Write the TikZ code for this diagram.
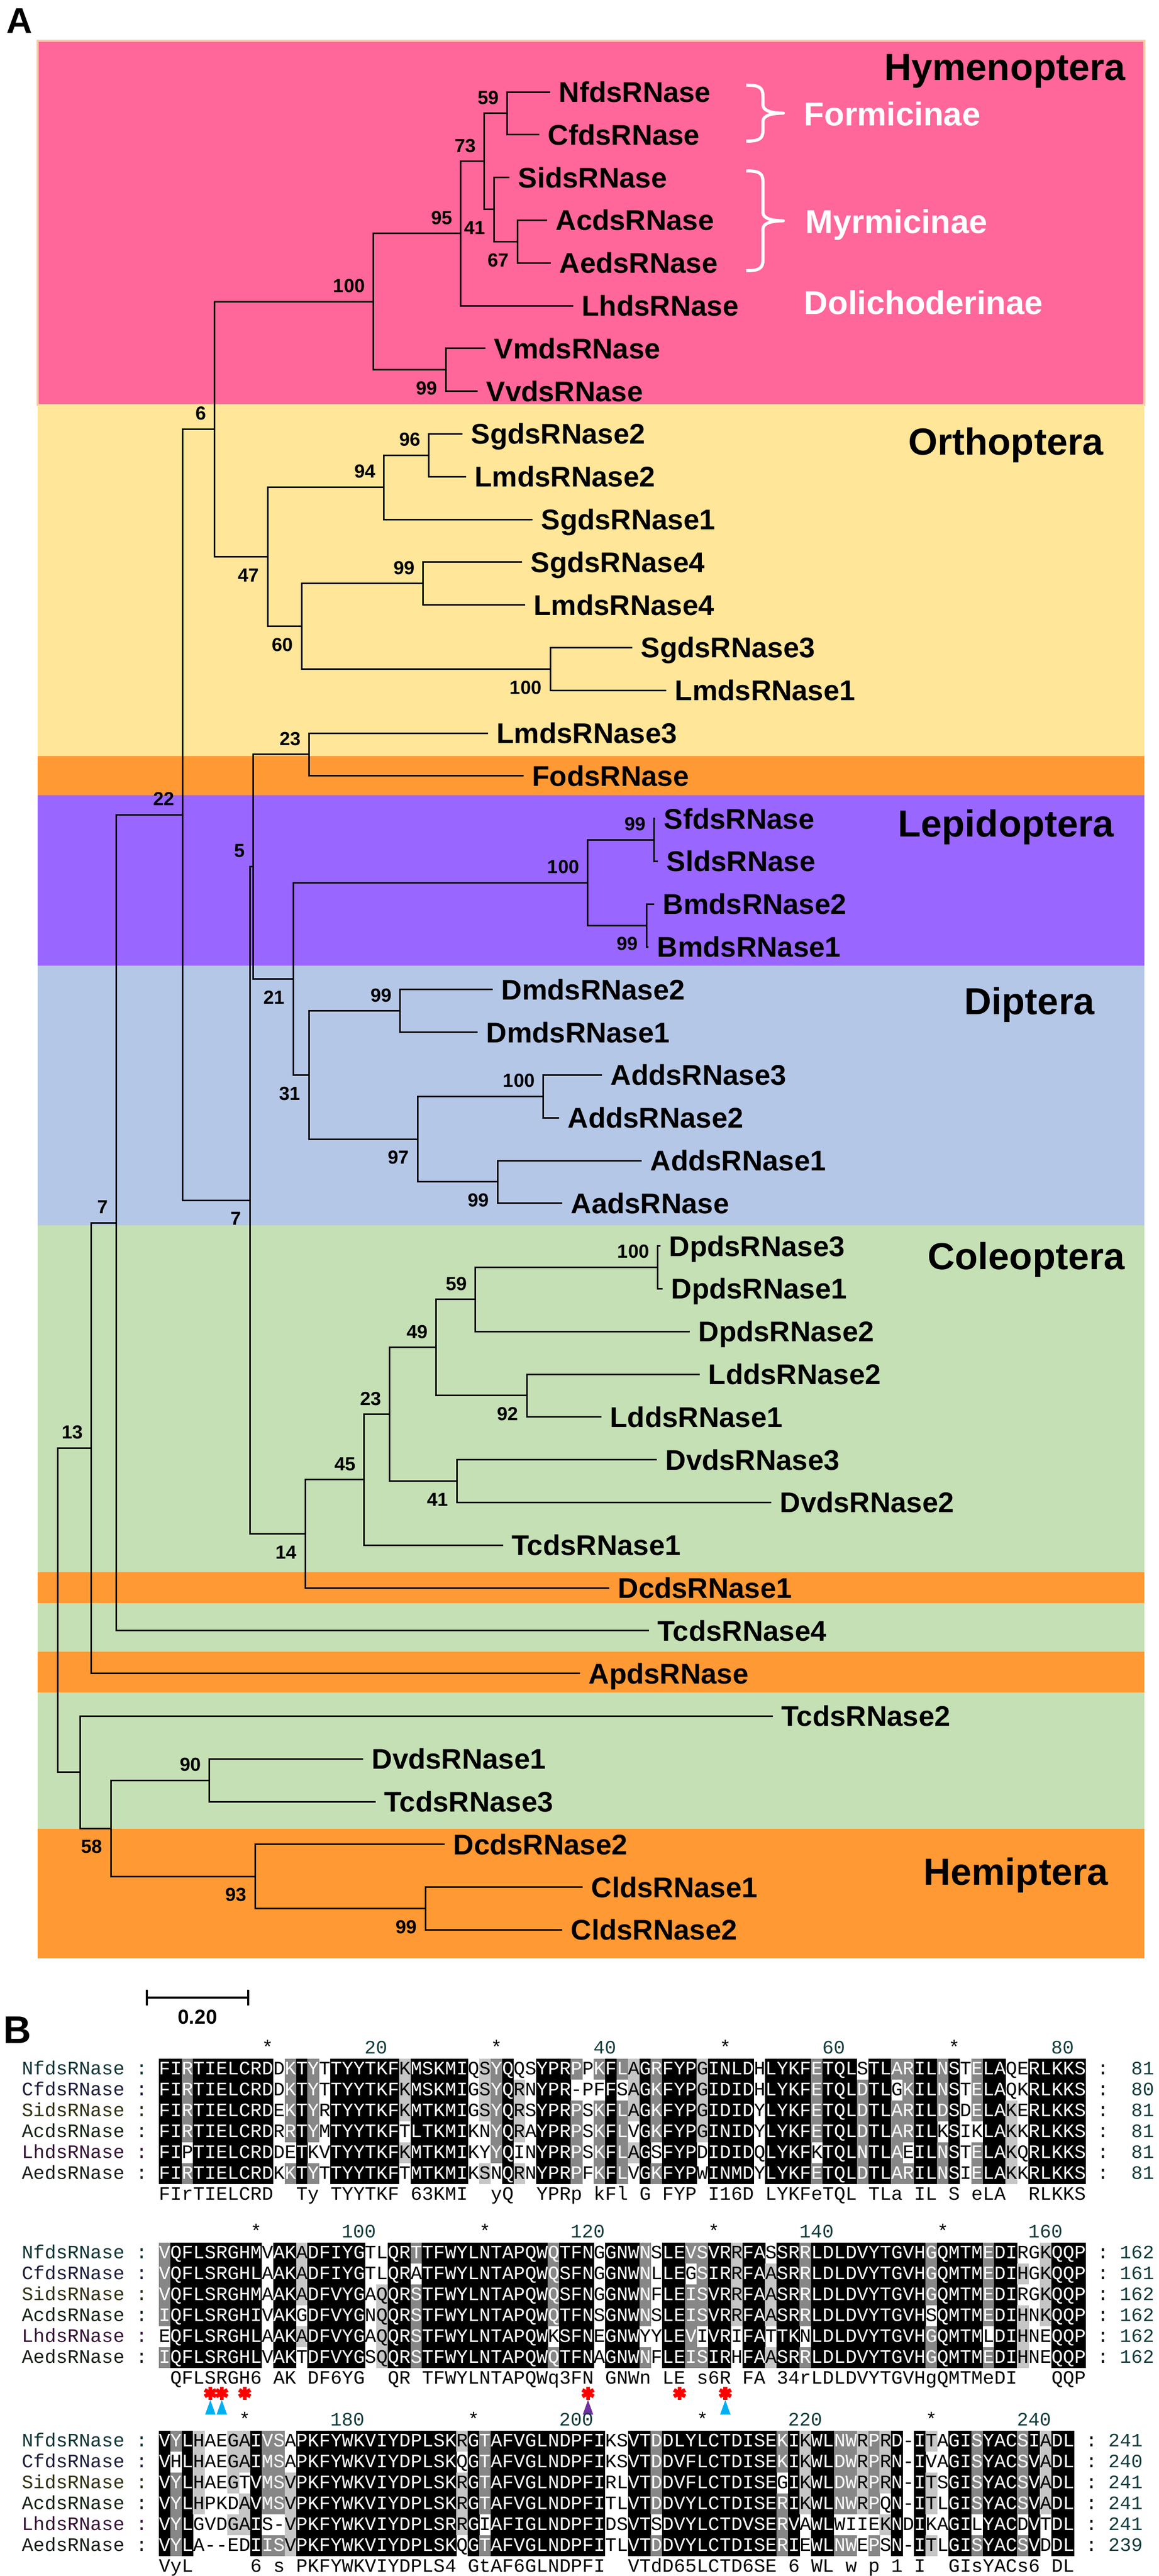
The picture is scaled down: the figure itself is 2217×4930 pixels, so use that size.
\documentclass[tikz,border=0pt]{standalone}
\usepackage{fontspec}
\usetikzlibrary{calc}
\newfontfamily\treefont{Liberation Sans}
\newfontfamily\almono{Liberation Mono}
\definecolor{hymc}{HTML}{FF6699}
\definecolor{ortc}{HTML}{FFE699}
\definecolor{orgc}{HTML}{FF9933}
\definecolor{lepc}{HTML}{9966FF}
\definecolor{dipc}{HTML}{B4C7E7}
\definecolor{colc}{HTML}{C5E0B4}
\definecolor{hymb}{HTML}{F8CBAD}
\definecolor{alk}{HTML}{000000}
\definecolor{ald}{HTML}{878787}
\definecolor{all}{HTML}{C6C6C6}
\definecolor{cyanm}{HTML}{00B0F0}
\definecolor{purpm}{HTML}{7030A0}
\definecolor{redm}{HTML}{FF0000}
\definecolor{numc}{HTML}{143C3C}
\definecolor{nmNf}{HTML}{123636}
\definecolor{nmCf}{HTML}{1E1E3C}
\definecolor{nmSi}{HTML}{303012}
\definecolor{nmAc}{HTML}{142214}
\definecolor{nmLh}{HTML}{361436}
\definecolor{nmAe}{HTML}{181E18}
\tikzset{
  tree/.style={line width=0.3mm, line join=miter, draw=black},
  taxon/.style={anchor=west, inner sep=0pt, font=\treefont\bfseries\fontsize{15.5}{18}\selectfont, text height=11.1pt, text depth=0pt},
  boot/.style={inner sep=0pt, font=\treefont\bfseries\fontsize{10.3}{12}\selectfont, text height=7.4pt, text depth=0pt},
  order/.style={inner sep=0pt, font=\treefont\bfseries\fontsize{20.5}{24}\selectfont, text height=14.7pt, text depth=0pt},
  subfam/.style={anchor=west, inner sep=0pt, text=white, font=\treefont\bfseries\fontsize{18}{21}\selectfont, text height=12.9pt, text depth=0pt},
  alch/.style={anchor=base, inner sep=0pt, font=\almono\fontsize{10.35}{12}\selectfont},
  starline/.style={draw=redm, line width=0.75mm},
}
% ---------- tree helpers
\newcommand\tleaf[4]{%
  \coordinate (#1) at (#3,{176+(#2-1)*81.8});
  \node[taxon] (t#1) at ($(#1)+(16,0)$) {#4};}
\newcommand\tclade[4]{%
  \coordinate (x#1) at (#2,0);
  \coordinate (#1) at ($(x#1|-#3)!0.5!(x#1|-#4)$);
  \draw[tree] (#3) -- (x#1|-#3) -- (x#1|-#4) -- (#4);}
\newcommand\bsa[2]{\node[boot,anchor=south east] (b#1) at ($(#1)+(-15,-17)$) {#2};}
\newcommand\bsb[2]{\node[boot,anchor=north east] (b#1) at ($(#1)+(-16,21)$) {#2};}
\newcommand\wbrace[3]{%
  \coordinate (#1) at (1499,{(#2+#3)/2});
  \draw[white, line width=0.6mm, line join=round]
    (1428,#2) .. controls (1452,#2) and (1460,{#2+4}) .. (1460,{#2+20})
    -- (1460,{(#2+#3)/2-16}) .. controls (1460,{(#2+#3)/2-4}) and (1478,{(#2+#3)/2}) .. (#1)
    .. controls (1478,{(#2+#3)/2}) and (1460,{(#2+#3)/2+4}) .. (1460,{(#2+#3)/2+16})
    -- (1460,{#3-20}) .. controls (1460,{#3-4}) and (1452,#3) .. (1428,#3);}
% ---------- alignment helpers
\newcommand\alcell[7]{%
  \ifnum#1=1
    \ifnum#6>3
      \ifnum#6=4 \def\alFil{all}\else\ifnum#6=5 \def\alFil{ald}\else\def\alFil{alk}\fi\fi
      \fill[fill=\alFil] ({304+(#3-1)*21.9-0.3},{#5+40*#4-20.3}) rectangle ++(22.5,40.6);
    \fi
  \else
    \ifnum#6>4 \def\alTxt{white}\else\def\alTxt{black}\fi
    \node[alch,text=\alTxt] (c#2-#4-#3) at ({304+(#3-0.5)*21.9},{#5+40*#4+10.5}) {#7};
  \fi}
\newcommand\alconsch[4]{\node[alch] (k#1-#2) at ({304+(#2-0.5)*21.9},{#3+10.5}) {#4};}
\newcommand\redmark[2]{%
  \coordinate (#1) at ({304+(#2-0.5)*21.9},4580);
  \draw[starline] ($(#1)+(0,-12.5)$) -- ($(#1)+(0,12.5)$);
  \draw[starline] ($(#1)+(-10.8,-6.2)$) -- ($(#1)+(10.8,6.2)$);
  \draw[starline] ($(#1)+(-10.8,6.2)$) -- ($(#1)+(10.8,-6.2)$);}
\newcommand\trimark[3]{%
  \coordinate (#1) at ({304+(#2-0.5)*21.9},4593);
  \fill[#3] ($(#1)+(-10,28)$) -- ($(#1)+(10,28)$) -- (#1) -- cycle;}
\ExplSyntaxOn
\clist_map_inline:nn { D1, N1, E2, Q2, S3, T3, K4, R4, F5, Y5, W5, L6, I6, V6, M6 }
  { \cs_gset:cpx { al_g_ \tl_head:n {#1} } { \tl_tail:n {#1} } }
\cs_gset:cpn { al_g_- } { 0 }
\cs_new:Npn \al_grp:n #1 { \cs_if_exist_use:cF { al_g_ #1 } { #1 } }
\int_step_inline:nn { 6 } { \str_new:c { l_al_row_#1_str } }
\cs_new:Npn \al_item:nn #1#2 { \exp_args:Nc \str_item:Nn { l_al_row_#1_str } {#2} }
\int_new:N \l_al_n_int
\int_new:N \l_al_len_int
\tl_new:N \l_al_c_tl
\tl_new:N \l_al_g_tl
\tl_new:N \l_al_y_tl
\str_new:N \l_al_cons_str
\cs_new_protected:Npn \al_cell:nnnn #1#2#3#4
  {
    \tl_set:Nx \l_al_c_tl { \al_item:nn {#4} {#3} }
    \tl_set:Nx \l_al_g_tl { \al_grp:n { \l_al_c_tl } }
    \int_zero:N \l_al_n_int
    \str_if_eq:VnF \l_al_g_tl { 0 }
      {
        \int_step_inline:nn { 6 }
          {
            \str_if_eq:eeT { \al_grp:n { \al_item:nn {##1} {#3} } } { \l_al_g_tl }
              { \int_incr:N \l_al_n_int }
          }
      }
    \use:x
      {
        \exp_not:N \alcell {#1} {#2} {#3} {#4} { \l_al_y_tl }
          { \int_use:N \l_al_n_int } { \l_al_c_tl }
      }
  }
\NewDocumentCommand \alblock { m m m m m m m m }
  {
    \str_set:cn { l_al_row_1_str } {#3}
    \str_set:cn { l_al_row_2_str } {#4}
    \str_set:cn { l_al_row_3_str } {#5}
    \str_set:cn { l_al_row_4_str } {#6}
    \str_set:cn { l_al_row_5_str } {#7}
    \str_set:cn { l_al_row_6_str } {#8}
    \tl_set:Nn \l_al_y_tl {#2}
    \int_set:Nn \l_al_len_int { \str_count:n {#3} }
    \int_step_inline:nn { 2 }
      {
        \int_step_inline:nn { \l_al_len_int }
          {
            \int_step_inline:nn { 6 }
              { \al_cell:nnnn {##1} {#1} {####1} {########1} }
          }
      }
  }
\NewDocumentCommand \alcons { m m m }
  {
    \str_set:Nn \l_al_cons_str {#3}
    \int_step_inline:nn { \str_count:N \l_al_cons_str }
      {
        \str_if_eq:eeF { \str_item:Nn \l_al_cons_str {##1} } { . }
          {
            \use:x
              {
                \exp_not:N \alconsch {#1} {##1} {#2}
                  { \str_item:Nn \l_al_cons_str {##1} }
              }
          }
      }
  }
\ExplSyntaxOff
\begin{document}
\begin{tikzpicture}[x=0.1mm,y=-0.1mm]
\useasboundingbox (0,0) rectangle (2217,4930);
\fill[white] (0,0) rectangle (2217,4930);
% ---------------- coloured bands
\fill[hymc] (72,78) rectangle (2190,775);
\draw[hymb, line width=0.45mm] (72,78) rectangle (2190,775);
\fill[ortc] (72,775) rectangle (2190,1447);
\fill[orgc] (72,1447) rectangle (2190,1522);
\fill[lepc] (72,1522) rectangle (2190,1848);
\fill[dipc] (72,1848) rectangle (2190,2345);
\fill[colc] (72,2345) rectangle (2190,3009);
\fill[orgc] (72,3009) rectangle (2190,3068);
\fill[colc] (72,3068) rectangle (2190,3161);
\fill[orgc] (72,3161) rectangle (2190,3239);
\fill[colc] (72,3239) rectangle (2190,3500);
\fill[orgc] (72,3500) rectangle (2190,3748);
% ---------------- panel A labels
\node[inner sep=0pt, font=\treefont\bfseries\fontsize{19.5}{22}\selectfont] (pA) at (37,40) {A};
\node[order] (oHym) at (1923,128) {Hymenoptera};
\node[order] (oOrt) at (1925,845) {Orthoptera};
\node[order] (oLep) at (1925,1576) {Lepidoptera};
\node[order] (oDip) at (1970,1916) {Diptera};
\node[order] (oCol) at (1964,2404) {Coleoptera};
\node[order] (oHem) at (1944,3582) {Hemiptera};
\node[subfam] (sFor) at (1538,218) {Formicinae};
\node[subfam] (sMyr) at (1541,424) {Myrmicinae};
\node[subfam] (sDol) at (1538,579) {Dolichoderinae};
\wbrace{brF}{163}{270}
\wbrace{brM}{327}{518}
% ---------------- leaves
\tleaf{L1}{1}{1053}{NfdsRNase}
\tleaf{L2}{2}{1032}{CfdsRNase}
\tleaf{L3}{3}{975}{SidsRNase}
\tleaf{L4}{4}{1047}{AcdsRNase}
\tleaf{L5}{5}{1054}{AedsRNase}
\tleaf{L6}{6}{1097}{LhdsRNase}
\tleaf{L7}{7}{929}{VmdsRNase}
\tleaf{L8}{8}{914}{VvdsRNase}
\tleaf{L9}{9}{885}{SgdsRNase2}
\tleaf{L10}{10}{892}{LmdsRNase2}
\tleaf{L11}{11}{1019}{SgdsRNase1}
\tleaf{L12}{12}{999}{SgdsRNase4}
\tleaf{L13}{13}{1005}{LmdsRNase4}
\tleaf{L14}{14}{1210}{SgdsRNase3}
\tleaf{L15}{15}{1275}{LmdsRNase1}
\tleaf{L16}{16}{934}{LmdsRNase3}
\tleaf{L17}{17}{1002}{FodsRNase}
\tleaf{L18}{18}{1254}{SfdsRNase}
\tleaf{L19}{19}{1259}{SldsRNase}
\tleaf{L20}{20}{1252}{BmdsRNase2}
\tleaf{L21}{21}{1241}{BmdsRNase1}
\tleaf{L22}{22}{943}{DmdsRNase2}
\tleaf{L23}{23}{914}{DmdsRNase1}
\tleaf{L24}{24}{1152}{AddsRNase3}
\tleaf{L25}{25}{1070}{AddsRNase2}
\tleaf{L26}{26}{1228}{AddsRNase1}
\tleaf{L27}{27}{1076}{AadsRNase}
\tleaf{L28}{28}{1264}{DpdsRNase3}
\tleaf{L29}{29}{1268}{DpdsRNase1}
\tleaf{L30}{30}{1320}{DpdsRNase2}
\tleaf{L31}{31}{1339}{LddsRNase2}
\tleaf{L32}{32}{1151}{LddsRNase1}
\tleaf{L33}{33}{1257}{DvdsRNase3}
\tleaf{L34}{34}{1476}{DvdsRNase2}
\tleaf{L35}{35}{963}{TcdsRNase1}
\tleaf{L36}{36}{1166}{DcdsRNase1}
\tleaf{L37}{37}{1242}{TcdsRNase4}
\tleaf{L38}{38}{1110}{ApdsRNase}
\tleaf{L39}{39}{1479}{TcdsRNase2}
\tleaf{L40}{40}{695}{DvdsRNase1}
\tleaf{L41}{41}{719}{TcdsRNase3}
\tleaf{L42}{42}{851}{DcdsRNase2}
\tleaf{L43}{43}{1115}{CldsRNase1}
\tleaf{L44}{44}{1076}{CldsRNase2}
% ---------------- clades
\tclade{nNC}{970}{L1}{L2}
\tclade{nAA}{990}{L4}{L5}
\tclade{nSAA}{945}{L3}{nAA}
\tclade{n73}{926}{nNC}{nSAA}
\tclade{n95}{881}{n73}{L6}
\tclade{nVV}{853}{L7}{L8}
\tclade{n100}{714}{n95}{nVV}
\tclade{nSL2}{820}{L9}{L10}
\tclade{n94}{734}{nSL2}{L11}
\tclade{nSL4}{809}{L12}{L13}
\tclade{nSL1}{1053}{L14}{L15}
\tclade{n60}{577}{nSL4}{nSL1}
\tclade{n47}{512}{n94}{n60}
\tclade{n6}{410}{n100}{n47}
\tclade{nLF}{591}{L16}{L17}
\tclade{nSS}{1251}{L18}{L19}
\tclade{nBB}{1237}{L20}{L21}
\tclade{nLep}{1124}{nSS}{nBB}
\tclade{nDm}{765}{L22}{L23}
\tclade{nAd}{1039}{L24}{L25}
\tclade{nAa}{952}{L26}{L27}
\tclade{n97}{799}{nAd}{nAa}
\tclade{n31}{591}{nDm}{n97}
\tclade{n21}{561}{nLep}{n31}
\tclade{n5}{484}{nLF}{n21}
\tclade{nDp}{1258}{L28}{L29}
\tclade{n59}{909}{nDp}{L30}
\tclade{nLd}{1008}{L31}{L32}
\tclade{n49}{834}{n59}{nLd}
\tclade{nDv}{874}{L33}{L34}
\tclade{n23c}{745}{n49}{nDv}
\tclade{n45}{696}{n23c}{L35}
\tclade{n14}{584}{n45}{L36}
\tclade{n7b}{478}{n5}{n14}
\tclade{n22}{349}{n6}{n7b}
\tclade{n7a}{222}{n22}{L37}
\tclade{n13}{174}{n7a}{L38}
\tclade{nDT}{400}{L40}{L41}
\tclade{nCl}{814}{L43}{L44}
\tclade{n93}{488}{L42}{nCl}
\tclade{n58}{212}{nDT}{n93}
\tclade{nT2}{153}{L39}{n58}
\tclade{root}{110}{n13}{nT2}
% ---------------- bootstrap values
\bsa{nNC}{59}
\bsa{n73}{73}
\bsa{n95}{95}
\bsb{nSAA}{41}
\bsb{nAA}{67}
\bsa{n100}{100}
\bsb{nVV}{99}
\bsa{n6}{6}
\bsa{nSL2}{96}
\bsa{n94}{94}
\bsb{n47}{47}
\bsa{nSL4}{99}
\bsb{n60}{60}
\bsb{nSL1}{100}
\bsa{nLF}{23}
\bsa{n22}{22}
\bsa{n5}{5}
\bsa{nSS}{99}
\bsa{nLep}{100}
\bsb{nBB}{99}
\bsb{n21}{21}
\bsa{nDm}{99}
\bsb{n31}{31}
\bsa{nAd}{100}
\bsb{n97}{97}
\bsb{nAa}{99}
\bsb{n7b}{7}
\bsa{n7a}{7}
\bsa{nDp}{100}
\bsa{n59}{59}
\bsa{n49}{49}
\bsb{nLd}{92}
\bsa{n23c}{23}
\bsa{n13}{13}
\bsa{n45}{45}
\bsb{nDv}{41}
\bsb{n14}{14}
\bsa{nDT}{90}
\bsb{n58}{58}
\bsb{n93}{93}
\bsb{nCl}{99}
% ---------------- scale bar
\coordinate (sb1) at (281,3823);
\coordinate (sb2) at (475,3823);
\draw[line width=0.4mm] (sb1) -- (sb2);
\draw[line width=0.4mm] ($(sb1)+(0,-15)$) -- ($(sb1)+(0,15)$);
\draw[line width=0.4mm] ($(sb2)+(0,-15)$) -- ($(sb2)+(0,15)$);
\node[inner sep=0pt, font=\treefont\bfseries\fontsize{11}{13}\selectfont, text height=7.9pt, text depth=0pt] (sbl) at (378,3860) {0.20};
% ---------------- panel B
\node[inner sep=0pt, font=\treefont\bfseries\fontsize{21}{24}\selectfont] (pB) at (33,3885) {B};
% block 1
\foreach \p in {10,30,50,70} {\node[alch] (r1s\p) at ({304+(\p-0.5)*21.9},3930.5) {*};}
\foreach \p in {20,40,60,80} {\node[alch,anchor=base east,text=numc] (r1n\p) at ({304+\p*21.9},3930.5) {\p};}
\foreach \r/\nm/\c in {1/Nf/81,2/Cf/80,3/Si/81,4/Ac/81,5/Lh/81,6/Ae/81} {
  \node[alch,anchor=base west,text=nm\nm] (m1-\r) at (41.2,{3920+40*\r+10.5}) {\nm dsRNase :};
  \node[alch] (d1-\r) at ({304+82.5*21.9},{3920+40*\r+10.5}) {:};
  \node[alch,anchor=base east,text=numc] (e1-\r) at ({304+87*21.9},{3920+40*\r+10.5}) {\c};
}
\alblock{1}{3920}
{FIRTIELCRDDKTYTTYYTKFKMSKMIQSYQQSYPRPPKFLAGRFYPGINLDHLYKFETQLSTLARILNSTELAQERLKKS}
{FIRTIELCRDDKTYTTYYTKFKMSKMIGSYQRNYPR-PFFSAGKFYPGIDIDHLYKFETQLDTLGKILNSTELAQKRLKKS}
{FIRTIELCRDEKTYRTYYTKFKMTKMIGSYQRSYPRPSKFLAGKFYPGIDIDYLYKFETQLDTLARILDSDELAKERLKKS}
{FIRTIELCRDRRTYMTYYTKFTLTKMIKNYQRAYPRPSKFLVGKFYPGINIDYLYKFETQLDTLARILKSIKLAKKRLKKS}
{FIPTIELCRDDETKVTYYTKFKMTKMIKYYQINYPRPSKFLAGSFYPDIDIDQLYKFKTQLNTLAEILNSTELAKQRLKKS}
{FIRTIELCRDKKTYTTYYTKFTMTKMIKSNQRNYPRPFKFLVGKFYPWINMDYLYKFETQLDTLARILNSIELAKKRLKKS}
\alcons{1}{4200}{FIrTIELCRD..Ty.TYYTKF.63KMI..yQ..YPRp.kFl.G.FYP.I16D.LYKFeTQL.TLa.IL.S.eLA..RLKKS}
% block 2
\foreach \p in {9,29,49,69} {\node[alch] (r2s\p) at ({304+(\p-0.5)*21.9},4282.5) {*};}
\foreach \p/\t in {19/100,39/120,59/140,79/160} {\node[alch,anchor=base east,text=numc] (r2n\p) at ({304+\p*21.9},4282.5) {\t};}
\foreach \r/\nm/\c in {1/Nf/162,2/Cf/161,3/Si/162,4/Ac/162,5/Lh/162,6/Ae/162} {
  \node[alch,anchor=base west,text=nm\nm] (m2-\r) at (41.2,{4272+40*\r+10.5}) {\nm dsRNase :};
  \node[alch] (d2-\r) at ({304+82.5*21.9},{4272+40*\r+10.5}) {:};
  \node[alch,anchor=base east,text=numc] (e2-\r) at ({304+87*21.9},{4272+40*\r+10.5}) {\c};
}
\alblock{2}{4272}
{VQFLSRGHMVAKADFIYGTLQRTTFWYLNTAPQWQTFNGGNWNSLEVSVRRFASSRRLDLDVYTGVHGQMTMEDIRGKQQP}
{VQFLSRGHLAAKADFIYGTLQRATFWYLNTAPQWQSFNGGNWNLLEGSIRRFAASRRLDLDVYTGVHGQMTMEDIHGKQQP}
{VQFLSRGHMAAKADFVYGAQQRSTFWYLNTAPQWQSFNGGNWNFLEISVRRFAASRRLDLDVYTGVHGQMTMEDIRGKQQP}
{IQFLSRGHIVAKGDFVYGNQQRSTFWYLNTAPQWQTFNSGNWNSLEISVRRFAASRRLDLDVYTGVHSQMTMEDIHNKQQP}
{EQFLSRGHLAAKADFVYGAQQRSTFWYLNTAPQWKSFNEGNWYYLEVIVRIFATTKNLDLDVYTGVHGQMTMLDIHNEQQP}
{IQFLSRGHLVAKTDFVYGSQQRSTFWYLNTAPQWQTFNAGNWNFLEISIRHFAASRRLDLDVYTGVHGQMTMEDIHNEQQP}
\alcons{2}{4552}{.QFLSRGH6.AK.DF6YG..QR.TFWYLNTAPQWq3FN.GNWn.LE.s6R.FA.34rLDLDVYTGVHgQMTMeDI...QQP}
\redmark{rs1}{5}
\redmark{rs2}{6}
\redmark{rs3}{8}
\redmark{rs4}{38}
\redmark{rs5}{46}
\redmark{rs6}{50}
\trimark{tr1}{5}{cyanm}
\trimark{tr2}{6}{cyanm}
\trimark{tr3}{38}{purpm}
\trimark{tr4}{50}{cyanm}
% block 3
\foreach \p in {8,28,48,68} {\node[alch] (r3s\p) at ({304+(\p-0.5)*21.9},4642.5) {*};}
\foreach \p/\t in {18/180,38/200,58/220,78/240} {\node[alch,anchor=base east,text=numc] (r3n\p) at ({304+\p*21.9},4642.5) {\t};}
\foreach \r/\nm/\c in {1/Nf/241,2/Cf/240,3/Si/241,4/Ac/241,5/Lh/241,6/Ae/239} {
  \node[alch,anchor=base west,text=nm\nm] (m3-\r) at (41.2,{4632+40*\r+10.5}) {\nm dsRNase :};
  \node[alch] (d3-\r) at ({304+81.5*21.9},{4632+40*\r+10.5}) {:};
  \node[alch,anchor=base east,text=numc] (e3-\r) at ({304+86*21.9},{4632+40*\r+10.5}) {\c};
}
\alblock{3}{4632}
{VYLHAEGAIVSAPKFYWKVIYDPLSKRGTAFVGLNDPFIKSVTDDLYLCTDISEKIKWLNWRPRD-ITAGISYACSIADL}
{VHLHAEGAIMSAPKFYWKVIYDPLSKQGTAFVGLNDPFIKSVTDDVFLCTDISEKIKWLDWRPRN-IVAGISYACSVADL}
{VYLHAEGTVMSVPKFYWKVIYDPLSKRGTAFVGLNDPFIRLVTDDVFLCTDISEGIKWLDWRPRN-ITSGISYACSVADL}
{VYLHPKDAVMSVPKFYWKVIYDPLSKRGTAFVGLNDPFITLVTDDVYLCTDISERIKWLNWRPQN-ITLGISYACSVADL}
{VYLGVDGAIS-VPKFYWKVIYDPLSRRGIAFIGLNDPFIDSVTSDVYLCTDVSERVAWLWIIEKNDIKAGILYACDVTDL}
{VYLA--EDIISVPKFYWKVIYDPLSKQGTAFVGLNDPFITLVTDDVYLCTDISERIEWLNWEPSN-ITLGISYACSVDDL}
\alcons{3}{4912}{VyL.....6.s.PKFYWKVIYDPLS4.GtAF6GLNDPFI..VTdD65LCTD6SE.6.WL.w.p.1.I..GIsYACs6.DL}
\end{tikzpicture}
\end{document}
